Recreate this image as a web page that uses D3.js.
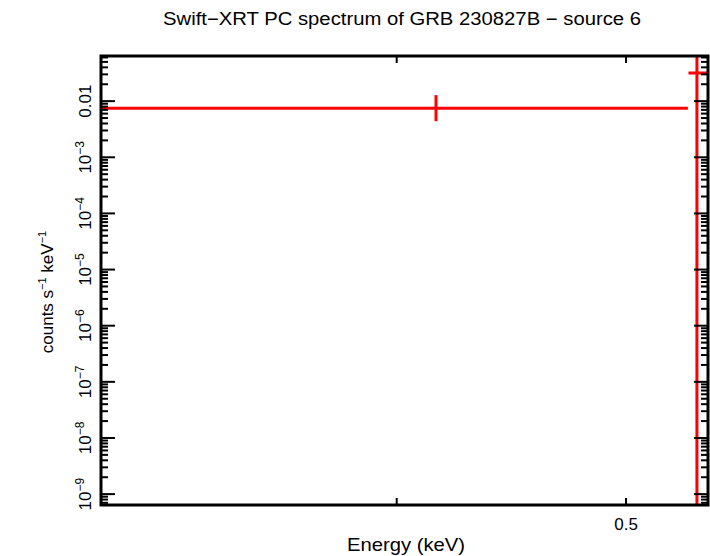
<!DOCTYPE html><html><head><meta charset="utf-8"><script src="https://cdn.jsdelivr.net/npm/d3@7"></script>
<style>body{margin:0;background:#fff}text{font-family:"Liberation Sans",Arial,sans-serif}</style></head><body>
<script>
const energy=[0.4156,0.5357];
const energyLo=[0.3,0.5313];
const energyHi=[0.531,0.56];
const rate=[0.0075,0.0316];
const rateLo=[0.0044,1e-11];
const rateHi=[0.0128,0.5];
const yDecades=[-2,-3,-4,-5,-6,-7,-8,-9];
const xTicks=[0.3,0.4,0.5];
const xLabels={0.5:"0.5"};

const W=710,H=556,L=101,R=708,T=56,B=505;
const svg=d3.select("body").append("svg").attr("width",W).attr("height",H);
const x=d3.scaleLog().domain([0.3,0.5415]).range([L,R]);
const y=d3.scaleLog().domain([6.4e-10,0.0637]).range([B,T]);
svg.append("defs").append("clipPath").attr("id","c").append("rect").attr("x",L).attr("y",T).attr("width",R-L).attr("height",B-T);
const g=svg.append("g").attr("clip-path","url(#c)");
const ticks=[];
for(let d=-10;d<=-1;d++)for(let m=1;m<10;m++){const v=m*Math.pow(10,d);if(v>=6.4e-10&&v<=0.0637)ticks.push({v,major:m==1});}
ticks.forEach(t=>{const yy=y(t.v),len=t.major?14:7;
 svg.append("line").attr("x1",L).attr("x2",L+len).attr("y1",yy).attr("y2",yy).attr("stroke","#000").attr("stroke-width",2);
 svg.append("line").attr("x1",R-len).attr("x2",R).attr("y1",yy).attr("y2",yy).attr("stroke","#000").attr("stroke-width",2);});
xTicks.forEach(v=>{const xx=x(v);
 svg.append("line").attr("x1",xx).attr("x2",xx).attr("y1",B).attr("y2",B-7).attr("stroke","#000").attr("stroke-width",2);
 svg.append("line").attr("x1",xx).attr("x2",xx).attr("y1",T).attr("y2",T+7).attr("stroke","#000").attr("stroke-width",2);
 if(xLabels[v])svg.append("text").attr("x",xx).attr("y",B+25).attr("text-anchor","middle").attr("font-size",17).text(xLabels[v]);});
yDecades.forEach(d=>{const yy=y(Math.pow(10,d));
 const t=svg.append("text").attr("transform",`translate(${L-10},${yy}) rotate(-90)`).attr("text-anchor","middle").attr("font-size",17);
 if(d==-2)t.text("0.01");else{t.append("tspan").text("10");t.append("tspan").attr("dy",-7).attr("font-size",12).text("\u2212"+(-d));}});
svg.append("rect").attr("x",L).attr("y",T).attr("width",R-L).attr("height",B-T).attr("fill","none").attr("stroke","#000").attr("stroke-width",3);
energy.forEach((e,i)=>{
 g.append("line").attr("x1",x(energyLo[i])).attr("x2",x(energyHi[i])).attr("y1",y(rate[i])).attr("y2",y(rate[i])).attr("stroke","#f00").attr("stroke-width",3);
 g.append("line").attr("x1",x(e)).attr("x2",x(e)).attr("y1",y(rateLo[i])).attr("y2",y(rateHi[i])).attr("stroke","#f00").attr("stroke-width",3);});
svg.append("text").attr("x",402).attr("y",25).attr("text-anchor","middle").attr("font-size",18).attr("textLength",478).attr("lengthAdjust","spacingAndGlyphs").text("Swift\u2212XRT PC spectrum of GRB 230827B \u2212 source 6");
svg.append("text").attr("x",406).attr("y",551).attr("text-anchor","middle").attr("font-size",19).attr("textLength",118).attr("lengthAdjust","spacingAndGlyphs").text("Energy (keV)");
const yl=svg.append("text").attr("transform","translate(53,292) rotate(-90)").attr("text-anchor","middle").attr("font-size",17);
yl.append("tspan").text("counts s");yl.append("tspan").attr("dy",-7).attr("font-size",11).text("\u22121");
yl.append("tspan").attr("dy",7).text(" keV");yl.append("tspan").attr("dy",-7).attr("font-size",11).text("\u22121");
</script></body></html>
